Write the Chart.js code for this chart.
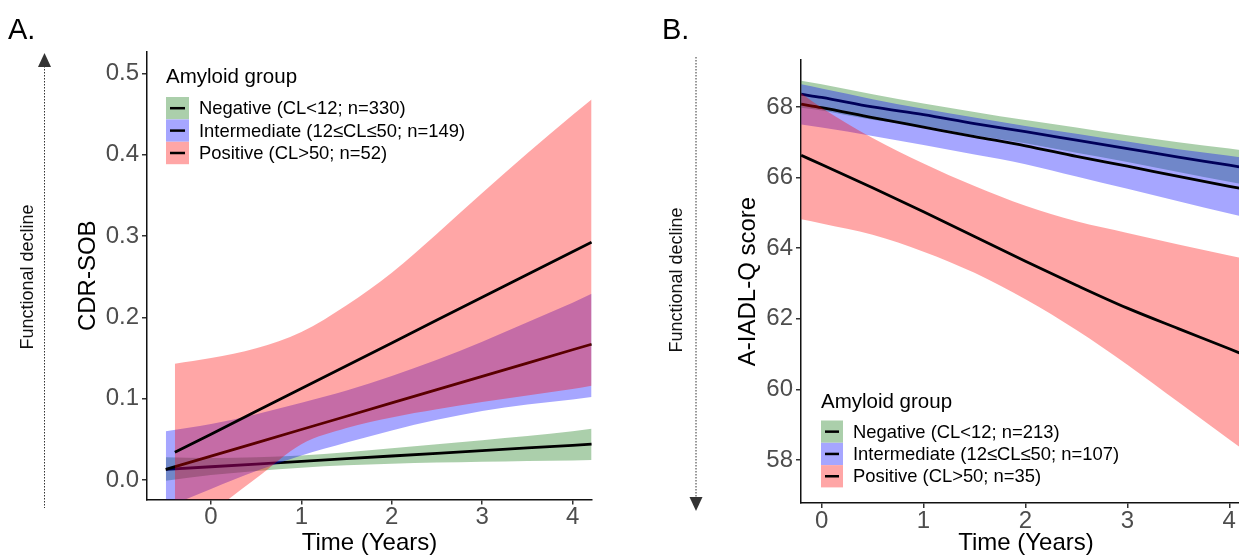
<!DOCTYPE html>
<html>
<head>
<meta charset="utf-8">
<script src="https://cdn.jsdelivr.net/npm/chart.js@4.4.1/dist/chart.umd.min.js"></script>
<style>
    html, body { margin: 0; padding: 0; background: #fff; overflow: hidden; width: 1239px; height: 557px; }
    canvas { position: absolute; top: 0; }
</style>
</head>
<body>
<canvas id="cdr" width="620" height="557" style="left:0px"></canvas>
<canvas id="iadl" width="631" height="557" style="left:620px"></canvas>
<script>
// ---- data ----
var xTicks = [0, 1, 2, 3, 4];
var yTicksA = [0, 0.1, 0.2, 0.3, 0.4, 0.5];
var yTicksB = [58, 60, 62, 64, 66, 68];

var legendTitle = 'Amyloid group';
var legendA = ['Negative (CL<12; n=330)', 'Intermediate (12≤CL≤50; n=149)', 'Positive (CL>50; n=52)'];
var legendB = ['Negative (CL<12; n=213)', 'Intermediate (12≤CL≤50; n=107)', 'Positive (CL>50; n=35)'];

// A. CDR-SOB
var timeA = [-0.5, 0, 0.5, 1, 1.5, 2, 2.5, 3, 3.5, 4, 4.21];
var negLineA = [0.013, 0.0163, 0.0196, 0.0229, 0.0262, 0.0295, 0.0328, 0.0361, 0.0394, 0.0427, 0.0441];
var negLowA = [-0.001, 0.006, 0.011, 0.015, 0.018, 0.020, 0.0215, 0.0225, 0.0235, 0.024, 0.0245];
var negUpA = [0.028, 0.027, 0.028, 0.030, 0.034, 0.039, 0.044, 0.049, 0.054, 0.060, 0.063];
var intLineA = [0.013, 0.0294, 0.0457, 0.0621, 0.0784, 0.0948, 0.1111, 0.1275, 0.1438, 0.1602, 0.167];
var intLowA = [-0.034, -0.011, 0.011, 0.030, 0.046, 0.061, 0.074, 0.085, 0.093, 0.099, 0.102];
var intUpA = [0.060, 0.069, 0.081, 0.095, 0.110, 0.128, 0.148, 0.170, 0.194, 0.218, 0.229];
var timePosA = [-0.4, 0, 0.5, 1, 1.5, 2, 2.5, 3, 3.5, 4, 4.21];
var posLineA = [0.034, 0.0564, 0.0845, 0.1125, 0.1406, 0.1686, 0.1967, 0.2247, 0.2528, 0.2808, 0.2925];
var posLowA = [-0.074, -0.040, 0.002, 0.044, 0.064, 0.077, 0.087, 0.096, 0.104, 0.112, 0.116];
var posUpA = [0.143, 0.150, 0.162, 0.182, 0.215, 0.255, 0.303, 0.353, 0.402, 0.449, 0.468];

// B. A-IADL-Q
var timeB = [-0.2, 0, 0.5, 1, 1.5, 2, 2.5, 3, 3.5, 4, 4.21];
var negLineB = [68.36, 68.27, 68.0, 67.78, 67.53, 67.3, 67.06, 66.82, 66.58, 66.35, 66.25];
var negLowB = [67.98, 67.9, 67.64, 67.46, 67.2, 66.97, 66.70, 66.44, 66.16, 65.88, 65.76];
var negUpB = [68.74, 68.64, 68.36, 68.1, 67.86, 67.63, 67.42, 67.2, 67.0, 66.82, 66.74];
var intLineB = [68.08, 67.98, 67.70, 67.43, 67.16, 66.9, 66.6, 66.32, 66.03, 65.75, 65.64];
var intLowB = [67.5, 67.42, 67.18, 66.92, 66.65, 66.38, 66.03, 65.68, 65.33, 64.98, 64.84];
var intUpB = [68.64, 68.52, 68.22, 67.95, 67.7, 67.46, 67.24, 67.02, 66.8, 66.62, 66.54];
var posLineB = [66.63, 66.37, 65.71, 65.03, 64.33, 63.63, 62.95, 62.30, 61.72, 61.15, 60.90];
var posLowB = [64.82, 64.70, 64.38, 63.90, 63.30, 62.55, 61.68, 60.70, 59.64, 58.58, 58.14];
var posUpB = [68.39, 67.98, 67.12, 66.40, 65.76, 65.20, 64.76, 64.43, 64.10, 63.79, 63.66];

var fills = ['rgba(0,110,0,0.33)', 'rgba(0,0,255,0.35)', 'rgba(255,0,0,0.35)'];
var fontFamily = "'Liberation Sans', Arial, Helvetica, sans-serif";

Chart.defaults.font.family = fontFamily;

function pts(xs, ys) {
    return xs.map(function (x, i) { return { x: x, y: ys[i] }; });
}

// ribbon then line for every group, later groups painted over earlier ones (like ggplot)
function buildDatasets(groups, straight) {
    var ds = [];
    groups.forEach(function (g, k) {
        var bandOrder = 6 - 2 * k;
        var lowIdx = ds.length;
        ds.push({ data: pts(g.time, g.low), borderColor: 'rgba(0,0,0,0)', borderWidth: 0, pointRadius: 0,
            fill: false, order: bandOrder, cubicInterpolationMode: 'monotone' });
        ds.push({ data: pts(g.time, g.up), borderColor: 'rgba(0,0,0,0)', borderWidth: 0, pointRadius: 0,
            fill: { target: lowIdx }, backgroundColor: fills[k], order: bandOrder, cubicInterpolationMode: 'monotone' });
        var line = { data: pts(g.time, g.line), borderColor: '#000', borderWidth: 2.8, pointRadius: 0,
            fill: false, order: bandOrder - 1 };
        if (!straight) line.cubicInterpolationMode = 'monotone';
        ds.push(line);
    });
    return ds;
}

var annotate = {
    id: 'annotate',
    afterDraw: function (chart, args, opt) {
        var c = chart.ctx;
        c.save();
        c.fillStyle = '#000';
        c.textAlign = 'left';
        c.textBaseline = 'alphabetic';
        c.font = '29px ' + fontFamily;
        c.fillText(opt.letter, opt.letterX, 39);

        // dotted arrow "Functional decline"
        c.strokeStyle = '#333';
        c.lineWidth = 1;
        c.setLineDash([1.5, 1.5]);
        c.beginPath();
        c.moveTo(opt.arrowX, opt.lineTop);
        c.lineTo(opt.arrowX, opt.lineBottom);
        c.stroke();
        c.setLineDash([]);
        c.fillStyle = '#333';
        c.beginPath();
        c.moveTo(opt.arrowX, opt.tipY);
        c.lineTo(opt.arrowX - 6.5, opt.baseY);
        c.lineTo(opt.arrowX + 6.5, opt.baseY);
        c.closePath();
        c.fill();

        c.save();
        c.translate(opt.textX, opt.textY);
        c.rotate(-Math.PI / 2);
        c.fillStyle = '#111';
        c.textAlign = 'center';
        c.textBaseline = 'middle';
        c.font = '18px ' + fontFamily;
        c.fillText('Functional decline', 0, 0);
        c.restore();

        // legend
        var L = opt.legend;
        c.fillStyle = '#000';
        c.font = '20.5px ' + fontFamily;
        c.fillText(legendTitle, L.x, L.titleY);
        L.labels.forEach(function (lab, k) {
            var y = L.y + k * L.h;
            c.fillStyle = '#fff';
            c.fillRect(L.x, y, L.w, L.h);
            c.fillStyle = fills[k];
            c.fillRect(L.x, y, L.w, L.h);
            c.strokeStyle = '#000';
            c.lineWidth = 2.5;
            c.beginPath();
            c.moveTo(L.x + 4, y + L.h / 2);
            c.lineTo(L.x + L.w - 4, y + L.h / 2);
            c.stroke();
            c.fillStyle = '#000';
            c.textBaseline = 'middle';
            c.font = '18.4px ' + fontFamily;
            c.fillText(lab, L.x + L.w + 10, y + L.h / 2 + 1);
        });
        c.restore();
    }
};

function axis(o) {
    return {
        type: 'linear',
        min: o.min,
        max: o.max,
        afterBuildTicks: function (s) { s.ticks = o.ticks.map(function (v) { return { value: v }; }); },
        afterFit: o.fit,
        grid: { display: true, drawOnChartArea: false, drawTicks: true, tickLength: 5, color: '#333', lineWidth: 1.5 },
        border: { display: true, color: '#111', width: 1.5 },
        ticks: { color: '#4d4d4d', font: { size: 24, lineHeight: 1 }, padding: o.tickPad, maxRotation: 0, autoSkip: false,
            callback: o.format },
        title: { display: true, text: o.title, color: '#000', font: { size: 24, lineHeight: 1 }, padding: o.titlePad }
    };
}

function makeChart(id, o) {
    return new Chart(document.getElementById(id), {
        type: 'line',
        data: { datasets: buildDatasets(o.groups, o.straight) },
        options: {
            responsive: false,
            animation: false,
            devicePixelRatio: 1,
            layout: { padding: o.padding },
            plugins: { legend: { display: false }, tooltip: { enabled: false }, annotate: o.annot },
            scales: {
                x: axis({ min: o.xMin, max: o.xMax, ticks: xTicks, title: 'Time (Years)', tickPad: 1,
                    titlePad: { top: 0, bottom: 1.5 }, format: function (v) { return String(v); },
                    fit: function (s) { s.height = o.xHeight; } }),
                y: axis({ min: o.yMin, max: o.yMax, ticks: o.yTicks, title: o.yTitle, tickPad: 3,
                    titlePad: { top: o.yTitlePad, bottom: 0 }, format: o.yFormat,
                    fit: function (s) { s.width = o.yWidth; } })
            }
        },
        plugins: [annotate]
    });
}

var chartA = makeChart('cdr', {
    groups: [
        { time: timeA, line: negLineA, low: negLowA, up: negUpA },
        { time: timeA, line: intLineA, low: intLowA, up: intUpA },
        { time: timePosA, line: posLineA, low: posLowA, up: posUpA }
    ],
    straight: true,
    padding: { left: 0, top: 52, right: 28, bottom: 0 },
    xMin: -0.708, xMax: 4.215, xHeight: 57.5,
    yMin: -0.024, yMax: 0.5265, yTicks: yTicksA, yWidth: 147, yTitle: 'CDR-SOB', yTitlePad: 76,
    yFormat: function (v) { return v.toFixed(1); },
    annot: {
        letter: 'A.', letterX: 8,
        arrowX: 44.5, lineTop: 66, lineBottom: 508, tipY: 53, baseY: 67,
        textX: 28, textY: 277,
        legend: { x: 166, titleY: 83, y: 97, h: 22.4, w: 23, labels: legendA }
    }
});

var chartB = makeChart('iadl', {
    groups: [
        { time: timeB, line: negLineB, low: negLowB, up: negUpB },
        { time: timeB, line: intLineB, low: intLowB, up: intUpB },
        { time: timeB, line: posLineB, low: posLowB, up: posUpB }
    ],
    straight: false,
    padding: { left: 0, top: 60, right: 0, bottom: 0 },
    xMin: -0.202, xMax: 4.213, xHeight: 54,
    yMin: 56.78, yMax: 69.33, yTicks: yTicksB, yWidth: 181, yTitle: 'A-IADL-Q score', yTitlePad: 116,
    yFormat: function (v) { return String(v); },
    annot: {
        letter: 'B.', letterX: 42,
        arrowX: 76, lineTop: 57, lineBottom: 498, tipY: 511, baseY: 497,
        textX: 57, textY: 280,
        legend: { x: 201, titleY: 408, y: 420.5, h: 22.3, w: 22, labels: legendB }
    }
});
</script>
</body>
</html>
